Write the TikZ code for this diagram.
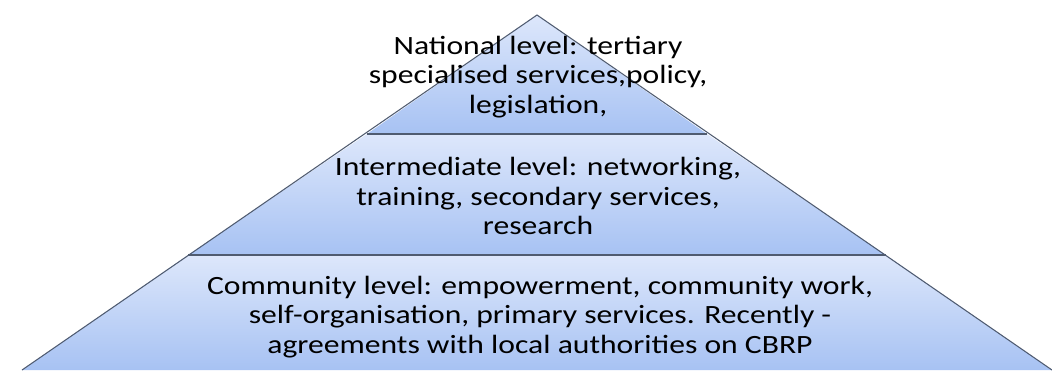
\documentclass[tikz,border=0pt]{standalone}
\usepackage{fontspec}
\setmainfont{Carlito}[FakeStretch=1.2]
\usepackage{xcolor}

\definecolor{lvltop}{HTML}{DDE7FB}
\definecolor{lvlbot}{HTML}{A7C2F3}
\definecolor{edgegray}{HTML}{4F5B70}

\begin{document}
\begin{tikzpicture}[x=0.02cm,y=0.02cm,
    layer/.style={top color=lvltop,bottom color=lvlbot},
    rim/.style={draw=edgegray,line width=0.6pt},
    sep/.style={draw=edgegray,line width=1.1pt},
    lbl/.style={align=center,inner sep=0pt,font=\fontsize{15}{17}\selectfont}]
    \useasboundingbox (0,0) rectangle (1052,370);
    \coordinate (apex) at (537,355);
    \coordinate (l1) at (367,236);
    \coordinate (r1) at (707,236);
    \coordinate (l2) at (188,115);
    \coordinate (r2) at (886,115);
    \coordinate (l3) at (22,0);
    \coordinate (r3) at (1052,0);
    % the three levels
    \shade[layer] (apex) -- (r1) -- (l1) -- cycle;
    \shade[layer] (l1) -- (r1) -- (r2) -- (l2) -- cycle;
    \shade[layer] (l2) -- (r2) -- (r3) -- (l3) -- cycle;
    \draw[rim] (l3) -- (apex) -- (r3);
    \draw[sep] (l1) -- (r1);
    \draw[sep] (l2) -- (r2);
    \node (national) [lbl] at (538,293) {National level: tertiary\\specialised services,policy,\\legislation,};
    \node (intermediate) [lbl] at (538,174) {Intermediate level: networking,\\training, secondary services,\\research};
    \node (community) [lbl] at (540,53) {Community level: empowerment, community work,\\self-organisation, primary services. Recently -\\agreements with local authorities on CBRP};
\end{tikzpicture}
\end{document}
